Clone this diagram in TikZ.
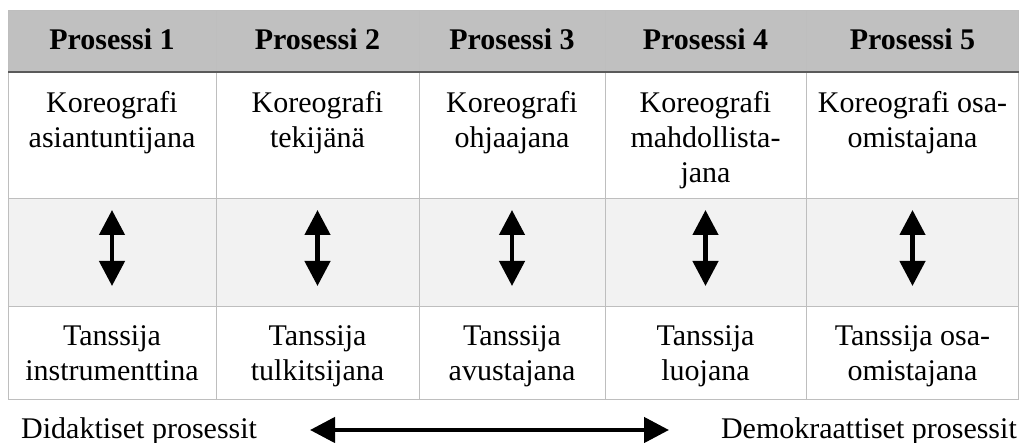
\documentclass[tikz,border=0pt]{standalone}
\usepackage{fontspec}
\setmainfont{Liberation Serif}
\usepackage{xcolor}
\usetikzlibrary{arrows.meta}

\definecolor{headgray}{RGB}{192,192,192}
\definecolor{rowgray}{RGB}{242,242,242}
\definecolor{gridgray}{RGB}{190,190,190}
\definecolor{rulegray}{RGB}{90,90,90}

\begin{document}
\begin{tikzpicture}[x=1pt, y=-1pt,
    cell/.style={font=\fontsize{30}{35}\selectfont, align=center, inner sep=0pt, anchor=north},
    head/.style={font=\fontsize{30}{35}\selectfont\bfseries, inner sep=0pt, anchor=base},
    side/.style={font=\fontsize{30}{35}\selectfont, inner sep=0pt},
    both/.style={{Triangle[length=25pt,width=25pt]}-{Triangle[length=25pt,width=25pt]}, line width=4.5pt}]
    \useasboundingbox (0,0) rectangle (1019,443);
    % backgrounds
    \fill[headgray] (8,11) rectangle (1019,72);
    \fill[rowgray] (8,199) rectangle (1019,307);
    % grid
    \draw[gridgray, line width=1pt] (8,11) -- (1019,11);
    \draw[gridgray, line width=1pt] (8,199) -- (1019,199);
    \draw[gridgray, line width=1pt] (8,307) -- (1019,307);
    \draw[gridgray, line width=1pt] (8,399) -- (1019,399);
    \foreach \x in {8,216,419,605,806,1018.5}
        \draw[gridgray, line width=1pt] (\x,11) -- (\x,399);
    \draw[rulegray, line width=2pt] (8,72) -- (1019,72);

    % header
    \node[head] (p1) at (112,50) {Prosessi 1};
    \node[head] (p2) at (317.5,50) {Prosessi 2};
    \node[head] (p3) at (512,50) {Prosessi 3};
    \node[head] (p4) at (705.5,50) {Prosessi 4};
    \node[head] (p5) at (912.5,50) {Prosessi 5};

    % koreografi
    \node[cell] (k1) at (112,91) {Koreografi\\asiantuntijana};
    \node[cell] (k2) at (317.5,91) {Koreografi\\tekijänä};
    \node[cell] (k3) at (512,91) {Koreografi\\ohjaajana};
    \node[cell] (k4) at (705.5,91) {Koreografi\\mahdollista-\\jana};
    \node[cell] (k5) at (912.5,91) {Koreografi osa-\\omistajana};

    % tanssija
    \node[cell] (t1) at (112,325) {Tanssija\\instrumenttina};
    \node[cell] (t2) at (317.5,325) {Tanssija\\tulkitsijana};
    \node[cell] (t3) at (512,325) {Tanssija\\avustajana};
    \node[cell] (t4) at (705.5,325) {Tanssija\\luojana};
    \node[cell] (t5) at (912.5,325) {Tanssija osa-\\omistajana};

    % vertical arrows
    \coordinate (a1t) at (112,210);   \coordinate (a1b) at (112,286);
    \coordinate (a2t) at (317.5,210); \coordinate (a2b) at (317.5,286);
    \coordinate (a3t) at (512,210);   \coordinate (a3b) at (512,286);
    \coordinate (a4t) at (705.5,210); \coordinate (a4b) at (705.5,286);
    \coordinate (a5t) at (912.5,210); \coordinate (a5b) at (912.5,286);
    \draw[both] (a1t) -- (a1b);
    \draw[both] (a2t) -- (a2b);
    \draw[both] (a3t) -- (a3b);
    \draw[both] (a4t) -- (a4b);
    \draw[both] (a5t) -- (a5b);

    % bottom scale
    \node[side, anchor=base west] (didak) at (21,438) {Didaktiset prosessit};
    \node[side, anchor=base east] (demok) at (1017,438) {Demokraattiset prosessit};
    \coordinate (sl) at (310,430);
    \coordinate (sr) at (669,430);
    \draw[both] (sl) -- (sr);
\end{tikzpicture}
\end{document}
